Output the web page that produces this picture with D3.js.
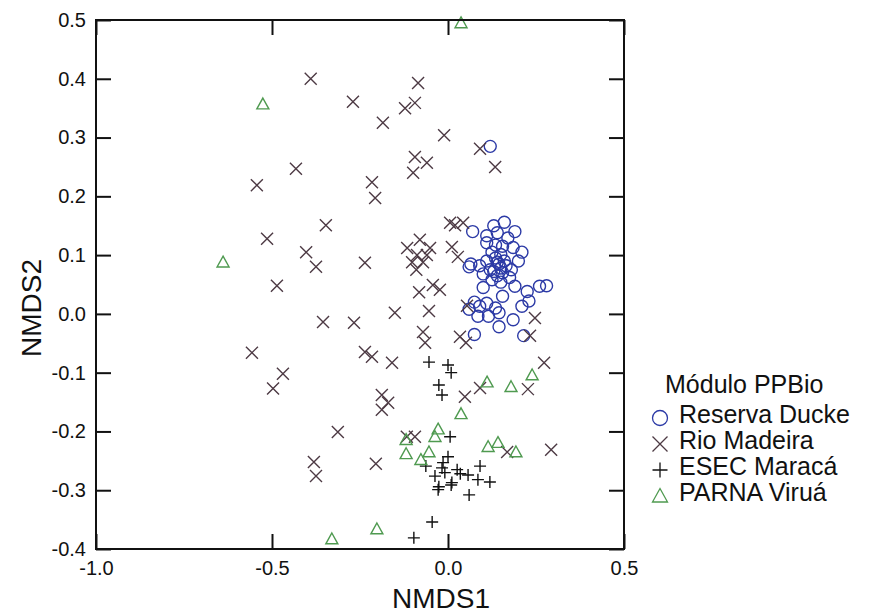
<!DOCTYPE html>
<html>
<head>
<meta charset="utf-8">
<script src="https://cdn.jsdelivr.net/npm/d3@7"></script>
<style>
    body { margin: 0; background: #fff; }
    text { font-family: Arial, 'Liberation Sans', sans-serif; fill: #111; }
</style>
</head>
<body>
<svg id="chart" width="875" height="615"></svg>
<script>

// NMDS scores
var reservaDucke = [
    [0.12, 0.285], [0.07, 0.14], [0.13, 0.15], [0.16, 0.156], [0.19, 0.14],
    [0.11, 0.133], [0.14, 0.138], [0.17, 0.129], [0.11, 0.121], [0.135, 0.117],
    [0.155, 0.115], [0.185, 0.113], [0.21, 0.105], [0.125, 0.105], [0.15, 0.101],
    [0.20, 0.09], [0.065, 0.085], [0.09, 0.082], [0.11, 0.09], [0.14, 0.088],
    [0.16, 0.09], [0.06, 0.08], [0.18, 0.075], [0.10, 0.068], [0.13, 0.072],
    [0.155, 0.07], [0.175, 0.062], [0.125, 0.058], [0.15, 0.054], [0.10, 0.045],
    [0.19, 0.047], [0.225, 0.038], [0.26, 0.047], [0.28, 0.048], [0.155, 0.03],
    [0.23, 0.022], [0.21, 0.013], [0.075, 0.02], [0.09, 0.013], [0.11, 0.018],
    [0.06, 0.008], [0.135, 0.01], [0.145, 0.002], [0.085, -0.004], [0.115, -0.004],
    [0.185, -0.01], [0.145, -0.022], [0.075, -0.035], [0.215, -0.037], [0.145, 0.085],
    [0.135, 0.095], [0.15, 0.078], [0.12, 0.075], [0.165, 0.082], [0.14, 0.065]
];
var rioMadeira = [
    [-0.39, 0.40], [-0.085, 0.393], [-0.27, 0.361], [-0.122, 0.35], [-0.094, 0.359],
    [-0.185, 0.325], [-0.011, 0.304], [0.091, 0.281], [0.134, 0.25], [-0.094, 0.267],
    [-0.06, 0.257], [-0.099, 0.24], [-0.216, 0.224], [-0.207, 0.197], [-0.432, 0.247],
    [-0.543, 0.219], [-0.514, 0.128], [-0.347, 0.151], [-0.403, 0.105], [-0.375, 0.08],
    [-0.486, 0.048], [-0.355, -0.014], [-0.267, -0.015], [-0.557, -0.066], [-0.469, -0.102],
    [-0.497, -0.127], [-0.313, -0.201], [-0.381, -0.252], [-0.375, -0.276], [0.006, 0.155],
    [0.043, 0.155], [0.02, 0.151], [-0.116, 0.112], [-0.08, 0.126], [-0.051, 0.112],
    [-0.088, 0.10], [-0.071, 0.088], [-0.102, 0.088], [0.011, 0.114], [0.028, 0.097],
    [-0.236, 0.087], [-0.043, 0.049], [-0.023, 0.041], [-0.082, 0.037], [0.054, 0.014],
    [-0.151, 0.002], [-0.054, 0.005], [-0.071, -0.031], [-0.065, -0.049], [0.034, -0.039],
    [0.051, -0.049], [0.247, -0.007], [0.233, -0.037], [-0.236, -0.065], [-0.216, -0.073],
    [-0.159, -0.083], [0.273, -0.083], [0.091, -0.126], [0.227, -0.128], [0.048, -0.141],
    [-0.188, -0.138], [-0.17, -0.151], [-0.188, -0.163], [-0.117, -0.209], [-0.094, -0.209],
    [0.168, -0.235], [0.293, -0.231], [-0.205, -0.255], [-0.06, 0.10], [-0.09, 0.075]
];
var esecMaraca = [
    [-0.054, -0.082], [0.0, -0.087], [0.009, -0.10], [-0.026, -0.121], [-0.017, -0.138],
    [0.006, -0.209], [0.0, -0.243], [-0.014, -0.253], [-0.017, -0.262], [-0.009, -0.27],
    [0.026, -0.265], [0.057, -0.274], [0.091, -0.259], [0.085, -0.282], [0.119, -0.286],
    [-0.037, -0.276], [0.011, -0.287], [-0.026, -0.294], [-0.063, -0.259], [0.035, -0.272],
    [-0.028, -0.299], [0.009, -0.291], [0.06, -0.308], [-0.045, -0.354], [-0.097, -0.381]
];
var parnaVirua = [
    [0.037, 0.495], [-0.526, 0.357], [-0.639, 0.088], [-0.33, -0.383], [0.111, -0.116],
    [0.179, -0.124], [0.239, -0.104], [0.037, -0.17], [-0.028, -0.196], [-0.037, -0.209],
    [-0.119, -0.214], [-0.119, -0.238], [-0.054, -0.235], [-0.077, -0.248], [0.114, -0.226],
    [0.142, -0.219], [0.193, -0.235], [-0.202, -0.366]
];

var xTicks = [-1.0, -0.5, 0.0, 0.5];
var yTicks = [-0.4, -0.3, -0.2, -0.1, 0.0, 0.1, 0.2, 0.3, 0.4, 0.5];
var legendTitle = 'Módulo PPBio';
var legendLabels = ['Reserva Ducke', 'Rio Madeira', 'ESEC Maracá', 'PARNA Viruá'];

var margin = {left: 96, right: 251, top: 20, bottom: 66};
var dim = {w: 875 - margin.left - margin.right, h: 615 - margin.top - margin.bottom};

var svg = d3.select('#chart').append('g')
    .attr('transform', 'translate(' + margin.left + ',' + margin.top + ')');

var x = d3.scaleLinear().domain([-1.0, 0.5]).range([0, dim.w]);
var y = d3.scaleLinear().domain([-0.4, 0.5]).range([dim.h, 0]);

// plain hyphen for negatives, like the original figure
var fmt = function (v) { return d3.format('.1f')(v).replace('\u2212', '-'); };
var tickLen = 15;

// marker drawers, s = marker size in px
var markers = [
    {
        color: '#2c3aa6',
        draw: function (g, s) {
            g.append('circle').attr('r', s * 0.5).attr('fill', 'none');
        }
    },
    {
        color: '#4d3a44',
        draw: function (g, s) {
            var h = s * 0.5;
            g.append('path').attr('d', 'M' + -h + ',' + -h + 'L' + h + ',' + h + 'M' + -h + ',' + h + 'L' + h + ',' + -h);
        }
    },
    {
        color: '#111',
        draw: function (g, s) {
            var h = s * 0.5;
            g.append('path').attr('d', 'M' + -h + ',0L' + h + ',0M0,' + -h + 'L0,' + h);
        }
    },
    {
        color: '#4f9a50',
        draw: function (g, s) {
            var h = s * 0.5;
            g.append('path').attr('d', 'M0,' + (-h) + 'L' + h + ',' + (h * 0.8) + 'L' + -h + ',' + (h * 0.8) + 'Z')
                .attr('fill', 'none');
        }
    }
];

var groups = [reservaDucke, rioMadeira, esecMaraca, parnaVirua];
var sizes = [12, 12, 12, 12];

groups.forEach(function (data, i) {
    data.forEach(function (d) {
        var g = svg.append('g')
            .attr('transform', 'translate(' + x(d[0]) + ',' + y(d[1]) + ')')
            .attr('stroke', markers[i].color)
            .attr('stroke-width', 1.4)
            .attr('fill', 'none');
        markers[i].draw(g, sizes[i]);
    });
});

// axes: ticks point inwards on all four sides
svg.append('g')
    .attr('transform', 'translate(0,' + dim.h + ')')
    .call(d3.axisBottom(x).tickValues(xTicks).tickSize(-tickLen).tickPadding(12).tickFormat(fmt));
svg.append('g')
    .call(d3.axisTop(x).tickValues(xTicks).tickSize(-tickLen).tickFormat(''));
svg.append('g')
    .call(d3.axisLeft(y).tickValues(yTicks).tickSize(-tickLen).tickPadding(10).tickFormat(fmt));
svg.append('g')
    .attr('transform', 'translate(' + dim.w + ',0)')
    .call(d3.axisRight(y).tickValues(yTicks).tickSize(-tickLen).tickFormat(''));

svg.selectAll('.domain').remove();
svg.selectAll('.tick line').attr('stroke', '#111').attr('stroke-width', 2);
svg.selectAll('.tick text')
    .style('font-size', '20px')
    .attr('fill', '#111');

svg.append('rect')
    .attr('width', dim.w)
    .attr('height', dim.h)
    .attr('fill', 'none')
    .attr('stroke', '#111')
    .attr('stroke-width', 2);

// axis titles
svg.append('text')
    .attr('x', x(-0.02))
    .attr('y', dim.h + 59)
    .attr('text-anchor', 'middle')
    .style('font-size', '28px')
    .text('NMDS1');
svg.append('text')
    .attr('transform', 'translate(-55,' + y(0.01) + ') rotate(-90)')
    .attr('text-anchor', 'middle')
    .style('font-size', '28px')
    .text('NMDS2');

// legend
var legend = d3.select('#chart').append('g')
    .attr('transform', 'translate(665,393)');
legend.append('text')
    .style('font-size', '25px')
    .text(legendTitle);
legendLabels.forEach(function (label, i) {
    var row = legend.append('g')
        .attr('transform', 'translate(0,' + (30 + i * 26) + ')');
    var g = row.append('g')
        .attr('transform', 'translate(-5,-5)')
        .attr('stroke', markers[i].color)
        .attr('stroke-width', 1.3)
        .attr('fill', 'none');
    markers[i].draw(g, 15);
    row.append('text')
        .attr('x', 14)
        .style('font-size', '25px')
        .text(label);
});

</script>
</body>
</html>
